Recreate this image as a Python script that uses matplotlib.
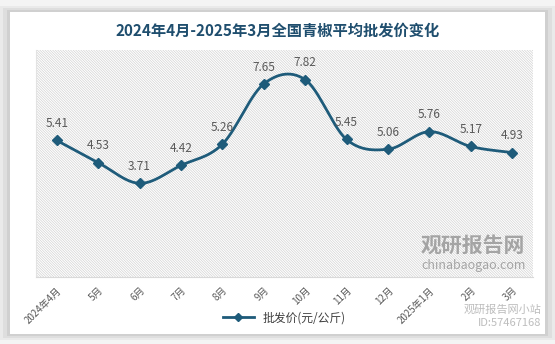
import numpy as np
import matplotlib.pyplot as plt
from matplotlib.patches import FancyBboxPatch, Rectangle

plt.rcParams['font.family'] = ['Noto Sans CJK SC', 'DejaVu Sans']
plt.rcParams['hatch.linewidth'] = 0.5
plt.rcParams['hatch.color'] = '#d2d2d2'

months = ['2024年4月', '5月', '6月', '7月', '8月', '9月', '10月', '11月',
          '12月', '2025年1月', '2月', '3月']
price = [5.41, 4.53, 3.71, 4.42, 5.26, 7.65, 7.82, 5.45, 5.06, 5.76, 5.17, 4.93]

line_color = '#1e5b7a'


def smooth(xs, ys, n=30):
    # Catmull-Rom through the points, like Excel's smoothed line
    xs = np.asarray(xs, float)
    ys = np.asarray(ys, float)
    px = np.concatenate([[xs[0]], xs, [xs[-1]]])
    py = np.concatenate([[ys[0]], ys, [ys[-1]]])
    outx, outy = [], []
    for i in range(1, len(px) - 2):
        t = np.linspace(0, 1, n)
        p0, p1, p2, p3 = px[i-1], px[i], px[i+1], px[i+2]
        q0, q1, q2, q3 = py[i-1], py[i], py[i+1], py[i+2]
        bx = [p1, p1 + (p2 - p0) / 6, p2 - (p3 - p1) / 6, p2]
        by = [q1, q1 + (q2 - q0) / 6, q2 - (q3 - q1) / 6, q2]
        c = [(1-t)**3, 3*(1-t)**2*t, 3*(1-t)*t**2, t**3]
        outx.append(sum(c[k] * bx[k] for k in range(4)))
        outy.append(sum(c[k] * by[k] for k in range(4)))
    return np.concatenate(outx), np.concatenate(outy)


fig = plt.figure(figsize=(5.55, 3.44), dpi=100)
fig.patch.set_facecolor('#f4f4f4')

# white card with a soft shadow
for i, a in enumerate([0.04, 0.05, 0.06]):
    d = 0.006 * (3 - i)
    fig.patches.append(FancyBboxPatch((0.018 - d, 0.03 - d), 0.964 + 2*d, 0.935 + 2*d,
                                      boxstyle='square,pad=0', transform=fig.transFigure,
                                      facecolor='black', edgecolor='none', alpha=a, zorder=0))
fig.patches.append(FancyBboxPatch((0.018, 0.03), 0.964, 0.935, boxstyle='square,pad=0',
                                  transform=fig.transFigure, facecolor='white',
                                  edgecolor='none', zorder=1))

ax = fig.add_axes([0.065, 0.195, 0.895, 0.66])
ax.set_zorder(3)
ax.set_facecolor('white')
ax.add_patch(Rectangle((0, 0), 1, 1, transform=ax.transAxes, facecolor='white',
                       edgecolor='#d2d2d2', hatch='\\' * 13, linewidth=0, zorder=0))

x = np.arange(len(months))
sx, sy = smooth(x, price)
ax.plot(sx, sy, color=line_color, linewidth=2, zorder=3)
ax.plot(x, price, linestyle='none', marker='D', markersize=5.5, color=line_color, zorder=4)
for xi, v in zip(x, price):
    ax.text(xi, v + 0.66, f'{v:.2f}', ha='center', va='center', fontsize=8.5,
            color='#595959', zorder=5)

ax.set_xlim(-0.5, len(months) - 0.5)
ax.set_ylim(0, 9)
ax.set_yticks([])
ax.set_xticks(x)
ax.set_xticklabels(months, rotation=45, ha='right', rotation_mode='anchor',
                   fontsize=7, color='#595959')
ax.tick_params(axis='x', length=0, pad=6)
for s in ['top', 'right']:
    ax.spines[s].set_visible(False)
ax.spines['left'].set_color('#e3e3e3')
ax.spines['left'].set_linewidth(0.8)
ax.spines['bottom'].set_color('#d9d9d9')

# legend entry drawn with line and diamond
leg_line, = ax.plot([], [], color=line_color, linewidth=2, marker='D', markersize=4.5)
ax.legend([leg_line], ['批发价(元/公斤)'], loc='center', bbox_to_anchor=(0.5, -0.18),
          frameon=False, fontsize=8.5, handlelength=2.6, labelcolor='#404040')

fig.text(0.5, 0.91, '2024年4月-2025年3月全国青椒平均批发价变化', ha='center', va='center',
         fontsize=11, fontweight='bold', color='#1f4e6e', zorder=5)

# watermarks
ax.text(0.985, 0.14, '观研报告网', transform=ax.transAxes, ha='right', va='center',
        fontsize=15, fontweight='bold', color='#8c8c8c', alpha=0.75, zorder=2)
ax.text(0.985, 0.05, 'chinabaogao.com', transform=ax.transAxes, ha='right', va='center',
        fontsize=9, color='#8c8c8c', alpha=0.75, zorder=2)
fig.text(0.975, 0.1, '观研报告网小站', ha='right', va='center', fontsize=8,
         color='#bdbdbd', zorder=6)
fig.text(0.975, 0.06, 'ID:57467168', ha='right', va='center', fontsize=8,
         color='#bdbdbd', zorder=6)

fig.savefig('out.png', dpi=100, facecolor=fig.get_facecolor())
